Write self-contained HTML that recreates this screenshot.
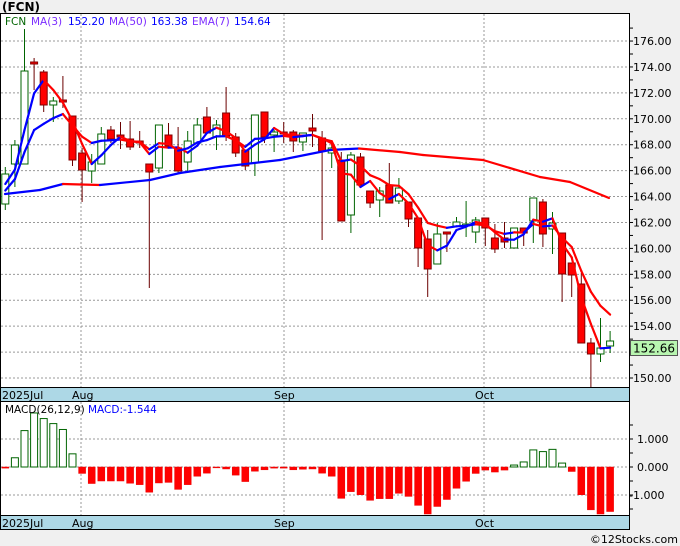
<!DOCTYPE html>
<html><head><meta charset="utf-8"><style>
html,body{margin:0;padding:0;background:#f0f0f0;}
svg{display:block;font-family:"DejaVu Sans","Liberation Sans",sans-serif;}
</style></head><body>
<svg id="s" width="680" height="546" xmlns="http://www.w3.org/2000/svg">
<rect x="0" y="0" width="680" height="546" fill="#f0f0f0"/>
<rect x="0.5" y="13.5" width="629" height="516" fill="#fff" stroke="#000"/>
<text x="2" y="11" font-size="12" font-weight="bold" fill="#000">(FCN)</text>
<text x="678" y="543" font-size="11" text-anchor="end" fill="#000">©12Stocks.com</text>
<g id="g"></g>
</svg>
<script>
var NS="http://www.w3.org/2000/svg",g=document.getElementById('g');
function el(t,a,txt){var e=document.createElementNS(NS,t);for(var k in a)e.setAttribute(k,a[k]);if(txt!=null)e.textContent=txt;g.appendChild(e);return e;}
// grid main
for(var p=150;p<=176;p+=2){var y=378-(p-150)*12.96;el('line',{x1:1,x2:629,y1:y,y2:y,stroke:'#999','stroke-dasharray':'2,2','stroke-width':1});
el('text',{x:633,y:y+4,'font-size':11,fill:'#000'},p.toFixed(2));}
for(var p=149;p<=177;p+=1){var y=378-(p-150)*12.96;if(y>14&&y<387)el('line',{x1:629,x2:633,y1:y,y2:y,stroke:'#000'});}
[81,284,484].forEach(function(x){el('line',{x1:x,x2:x,y1:14,y2:515,stroke:'#999','stroke-dasharray':'2,2'});});
// macd grid
[[1,'1.000'],[0,'0.000'],[-1,'-1.000']].forEach(function(v){var y=467-v[0]*28;el('line',{x1:1,x2:629,y1:y,y2:y,stroke:'#999','stroke-dasharray':'2,2'});el('text',{x:v[0]<0?629:637,y:y+4,'font-size':11,fill:'#000'},v[1]);});
for(var v=-1.5;v<=1.5;v+=0.5){var y=467-v*28;el('line',{x1:629,x2:633,y1:y,y2:y,stroke:'#000'});}
// date bars
[387,515].forEach(function(y){el('rect',{x:0.5,y:y+0.5,width:629,height:14,fill:'#add8e6',stroke:'#000'});
el('text',{x:2,y:y+12,'font-size':11,fill:'#000'},'2025Jul');el('text',{x:72,y:y+12,'font-size':11,fill:'#000'},'Aug');el('text',{x:274,y:y+12,'font-size':11,fill:'#000'},'Sep');el('text',{x:475,y:y+12,'font-size':11,fill:'#000'},'Oct');});
el('line',{x1:629.5,x2:629.5,y1:13,y2:530,stroke:'#000'});
var C=[[204,174,167,210],[164,145,140,187],[164,71,29,164],[62,64,58,90],[72,105,70,112],[105,101,97,122],[100,102,76,108],[116,160,116,166],[153,170,148,202],[171,162,154,183],[164,134,127,164],[130,139,126,143],[135,137,122,149],[139,147,121,150],[141,143,131,148],[164,172,164,288],[168,125,125,173],[135,146,123,146],[148,171,127,174],[162,141,131,173],[143,125,118,143],[117,133,107,133],[137,125,120,150],[113,136,87,141],[137,153,133,157],[150,166,150,170],[163,115,115,176],[112,137,112,143],[135,132,130,152],[132,133,122,143],[132,141,130,152],[142,133,133,151],[128,131,114,147],[138,151,131,240],[153,148,142,168],[160,221,152,221],[215,155,152,233],[157,185,153,185],[191,203,191,208],[200,191,187,217],[185,203,163,203],[201,188,178,204],[202,219,202,227],[218,248,218,267],[239,269,230,297],[264,234,223,264],[232,234,232,252],[226,222,217,226],[226,224,201,237],[232,220,217,243],[218,228,218,246],[238,249,224,253],[238,242,222,248],[248,228,228,248],[228,233,228,246],[221,198,198,243],[202,234,199,247],[229,223,212,254],[233,274,233,302],[263,275,263,297],[284,343,273,343],[343,354,338,387],[354,348,318,362],[346,341,331,353]];
function X(i){return 5.3+i*9.6;}
C.forEach(function(c,i){var x=X(i),up=c[1]<c[0],t=Math.min(c[0],c[1]),b=Math.max(c[0],c[1]);if(b-t<2){b=t+2;}
var col=up?'#006400':'#6b0000';el('line',{x1:x,x2:x,y1:c[2],y2:c[3],stroke:col,'stroke-width':1});
el('rect',{x:x-3.5,y:t,width:7,height:b-t,fill:up?'#fff':'#ff0000',stroke:up?'#006400':'#800000','stroke-width':1});});
function seg(pts){for(var i=1;i<pts.length;i++){var a=pts[i-1],b=pts[i];el('line',{x1:a[0],y1:a[1],x2:b[0],y2:b[1],stroke:b[1]<=a[1]?'#0000ff':'#ff0000','stroke-width':2.2,'stroke-linecap':'round'});}}
seg([[5,194],[40,190],[63,184],[81,184.5],[100,185],[150,180],[180,173],[220,167],[280,160],[330,150],[359,148.5],[400,152],[423,155],[483,160],[540,177],[570,182],[609,198]]);
var cl=C.map(function(c){return c[1];});var ext=[188,190].concat(cl);var ma=[],ema=[],e=196;
cl.forEach(function(v,i){ma.push([X(i),(ext[i]+ext[i+1]+ext[i+2])/3]);e=e+(v-e)*0.25;ema.push([X(i),e]);});
seg(ma);seg(ema);
// price label
el('rect',{x:630.5,y:340.5,width:47,height:15,fill:'#b8f5b0',stroke:'#555'});
el('text',{x:633,y:352.5,'font-size':12,fill:'#000'},'152.66');
// legend
var L=[[5,'FCN','#006400'],[31,'MA(3)','#7b2cff'],[68,'152.20','#0000ff'],[109,'MA(50)','#7b2cff'],[151,'163.38','#0000ff'],[192,'EMA(7)','#7b2cff'],[234,'154.64','#0000ff']];
L.forEach(function(l){el('text',{x:l[0],y:25,'font-size':10.5,fill:l[2]},l[1]);});
// macd
var M=[-0.04,0.33,1.3,1.93,1.73,1.55,1.34,0.47,-0.23,-0.59,-0.5,-0.5,-0.5,-0.58,-0.63,-0.9,-0.57,-0.55,-0.8,-0.63,-0.33,-0.22,-0.03,-0.07,-0.29,-0.52,-0.15,-0.1,-0.04,-0.04,-0.1,-0.08,-0.07,-0.22,-0.33,-1.12,-0.88,-0.99,-1.19,-1.13,-1.13,-0.94,-1.05,-1.37,-1.68,-1.41,-1.16,-0.76,-0.51,-0.23,-0.11,-0.18,-0.11,0.07,0.18,0.61,0.55,0.63,0.14,-0.16,-0.99,-1.53,-1.68,-1.59];
M.forEach(function(v,i){var x=X(i),y=467-v*28;if(v>=0)el('rect',{x:x-3.5,y:y,width:7,height:467-y,fill:'#fff',stroke:'#006400'});else el('rect',{x:x-3.5,y:467,width:7,height:Math.min(y,514)-467,fill:'#ff0000',stroke:'#ee0000','stroke-width':0.5});});
el('text',{x:5,y:413,'font-size':10.5,fill:'#000'},'MACD(26,12,9)');
el('text',{x:88,y:413,'font-size':10.5,fill:'#0000ff'},'MACD:-1.544');
</script>
</body></html>
